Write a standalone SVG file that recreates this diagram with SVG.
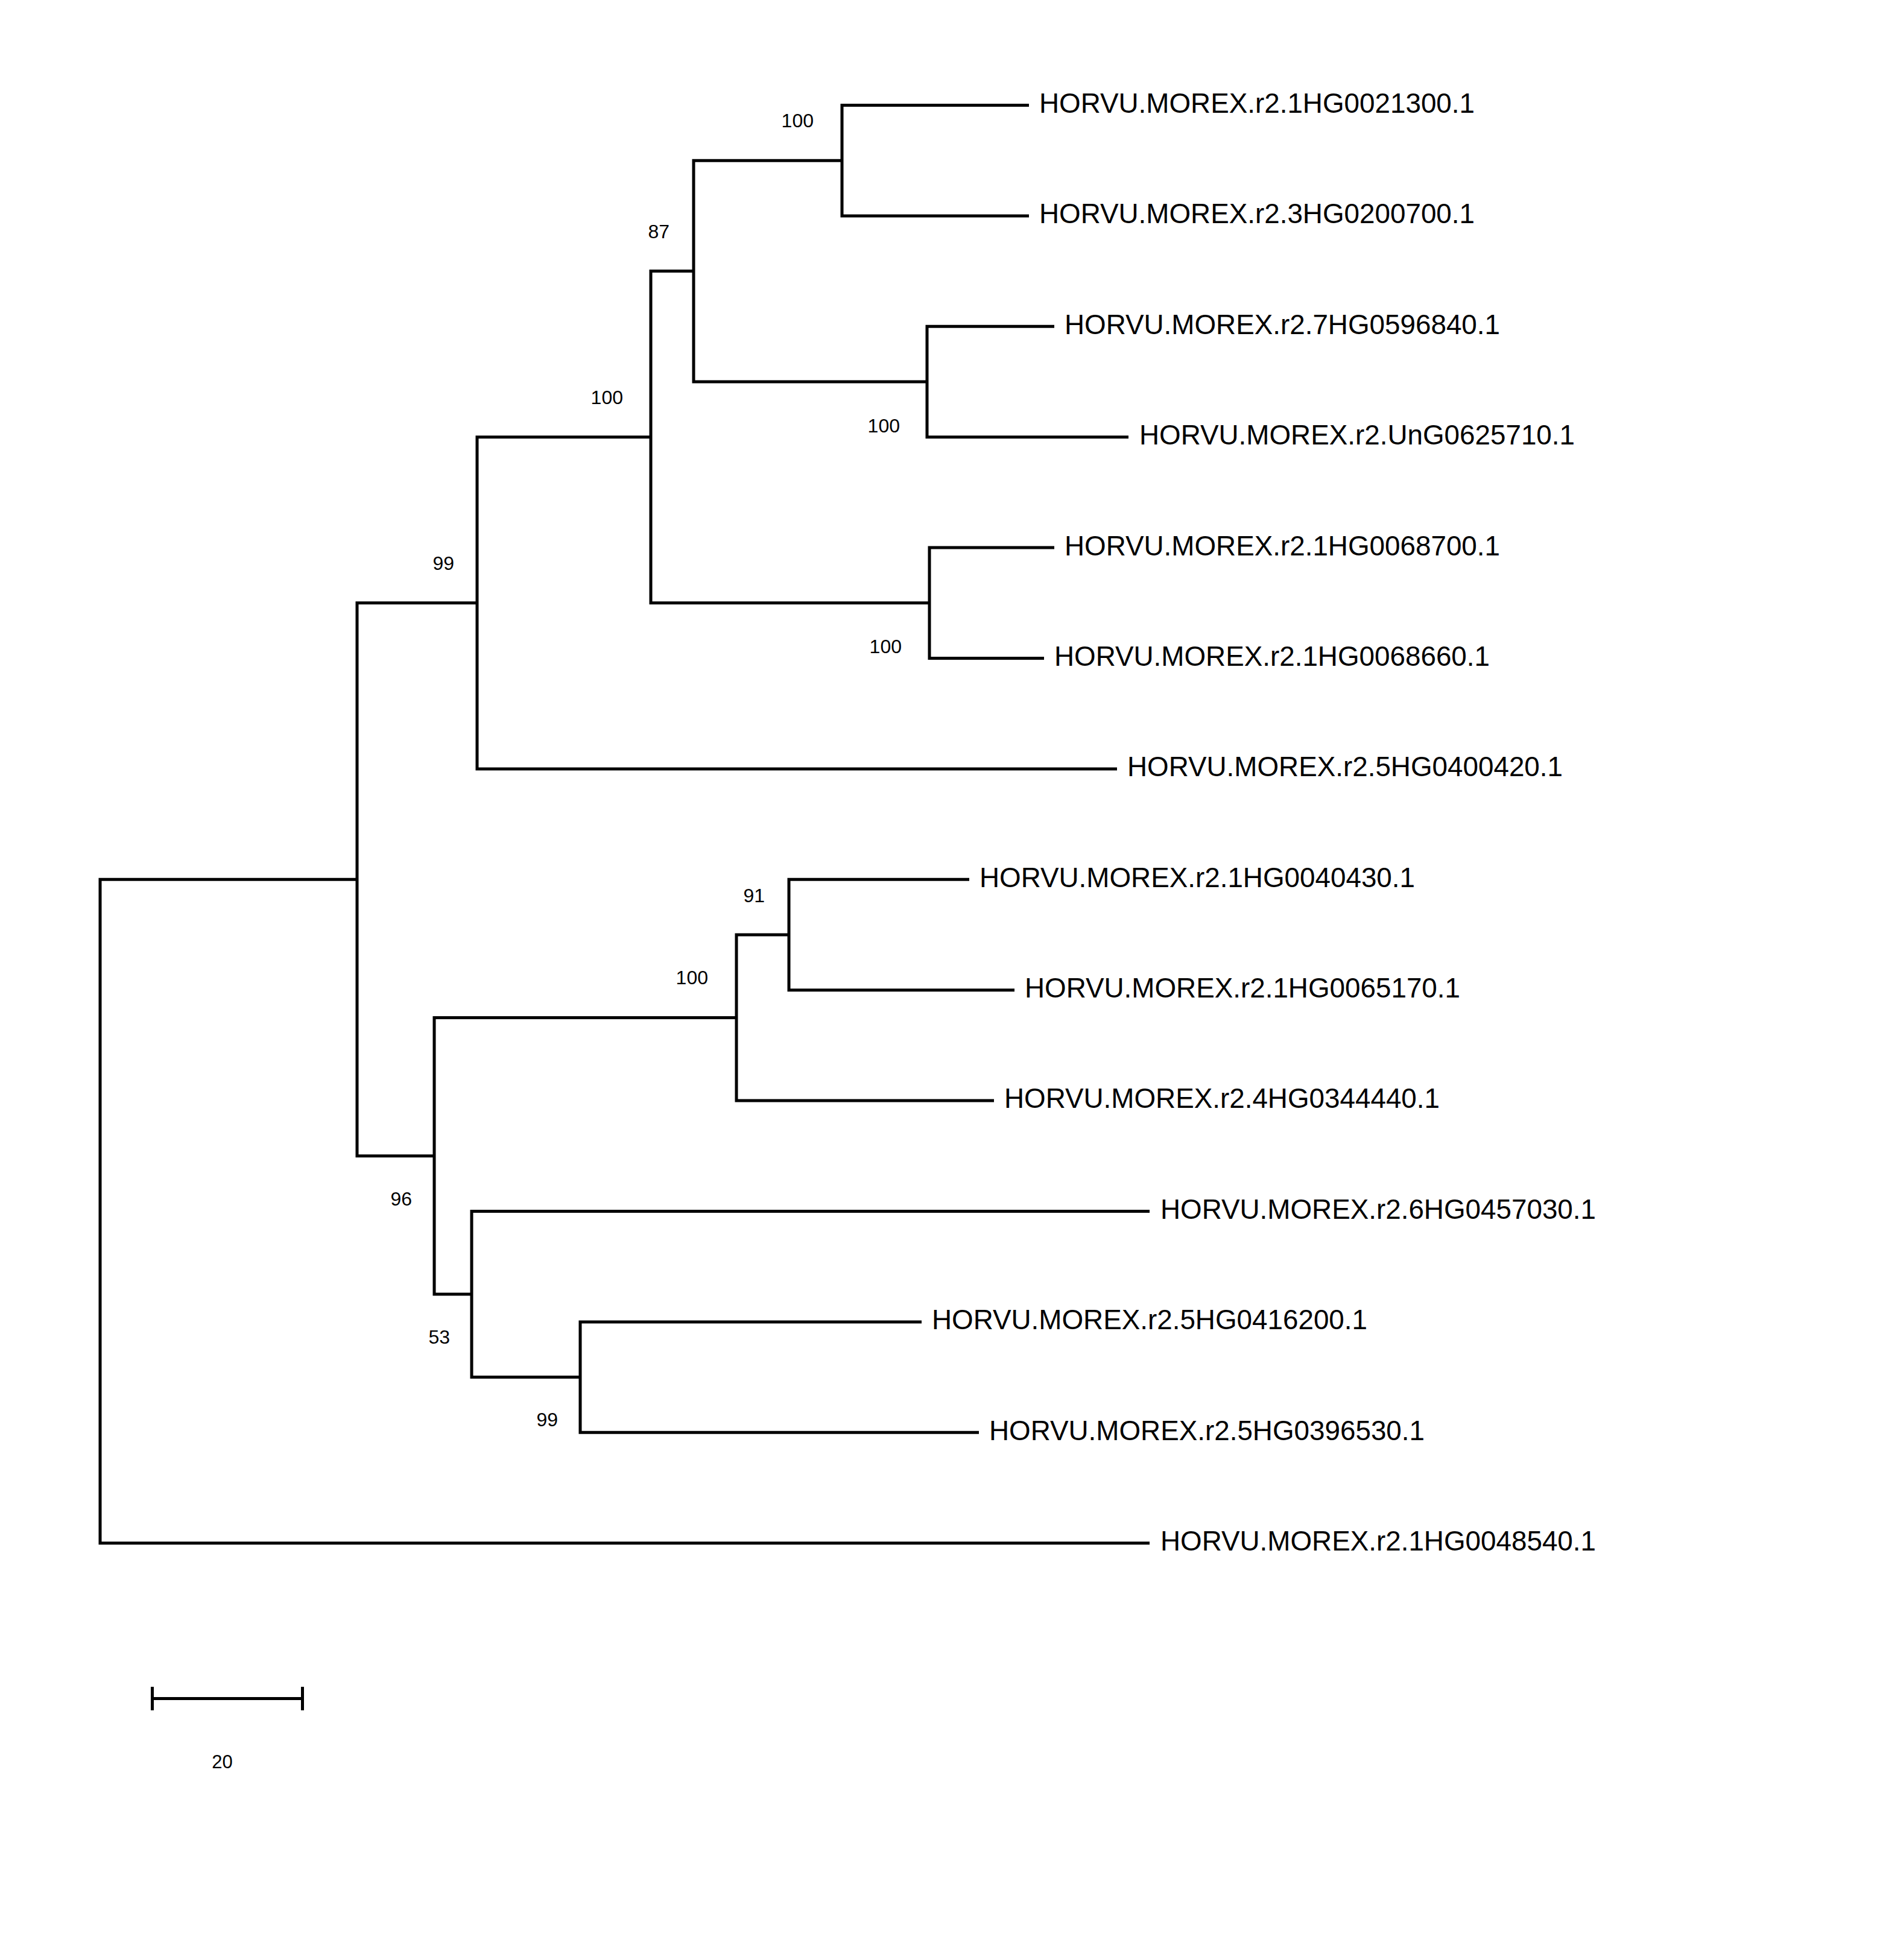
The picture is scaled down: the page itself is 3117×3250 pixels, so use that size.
<svg xmlns="http://www.w3.org/2000/svg" width="3117" height="3250" viewBox="0 0 3117 3250">
<style>
.br{fill:none;stroke:#000;stroke-width:5;stroke-linejoin:miter;stroke-linecap:butt}
.lf{font-family:"Liberation Sans",Arial,sans-serif;font-size:45.8px;fill:#000}
.bs{font-family:"Liberation Sans",Arial,sans-serif;font-size:32px;fill:#000;text-anchor:end}
.sc{font-family:"Liberation Sans",Arial,sans-serif;font-size:31px;fill:#000;text-anchor:middle}
</style>
<rect width="3117" height="3250" fill="#fff"/>
<g id="connectors">
<path class="br" d="M1706,174.5 H1396 V357.9 H1706"/>
<path class="br" d="M1748,541.3 H1537 V724.7 H1871"/>
<path class="br" d="M1396,266.2 H1150 V633 H1537"/>
<path class="br" d="M1748,908.1 H1541 V1091.5 H1731"/>
<path class="br" d="M1150,449.6 H1079 V999.8 H1541"/>
<path class="br" d="M1079,724.7 H791 V1274.9 H1852"/>
<path class="br" d="M1607,1458.3 H1308 V1641.7 H1682"/>
<path class="br" d="M1308,1550 H1221 V1825.1 H1648"/>
<path class="br" d="M1528,2191.9 H962 V2375.3 H1623"/>
<path class="br" d="M1906,2008.5 H782 V2283.6 H962"/>
<path class="br" d="M1221,1687.6 H720 V2146 H782"/>
<path class="br" d="M791,999.8 H592 V1916.8 H720"/>
<path class="br" d="M592,1458.3 H166 V2558.7 H1906"/>
</g>
<g id="leaf-1"><text class="lf" x="1723" y="186.5">HORVU.MOREX.r2.1HG0021300.1</text></g>
<g id="leaf-2"><text class="lf" x="1723" y="370">HORVU.MOREX.r2.3HG0200700.1</text></g>
<g id="leaf-3"><text class="lf" x="1765" y="553.5">HORVU.MOREX.r2.7HG0596840.1</text></g>
<g id="leaf-4"><text class="lf" x="1889" y="737">HORVU.MOREX.r2.UnG0625710.1</text></g>
<g id="leaf-5"><text class="lf" x="1765" y="920.5">HORVU.MOREX.r2.1HG0068700.1</text></g>
<g id="leaf-6"><text class="lf" x="1748" y="1104">HORVU.MOREX.r2.1HG0068660.1</text></g>
<g id="leaf-7"><text class="lf" x="1869" y="1287">HORVU.MOREX.r2.5HG0400420.1</text></g>
<g id="leaf-8"><text class="lf" x="1624" y="1470.5">HORVU.MOREX.r2.1HG0040430.1</text></g>
<g id="leaf-9"><text class="lf" x="1699" y="1654">HORVU.MOREX.r2.1HG0065170.1</text></g>
<g id="leaf-10"><text class="lf" x="1665" y="1837">HORVU.MOREX.r2.4HG0344440.1</text></g>
<g id="leaf-11"><text class="lf" x="1924" y="2020.5">HORVU.MOREX.r2.6HG0457030.1</text></g>
<g id="leaf-12"><text class="lf" x="1545" y="2204">HORVU.MOREX.r2.5HG0416200.1</text></g>
<g id="leaf-13"><text class="lf" x="1640" y="2387.5">HORVU.MOREX.r2.5HG0396530.1</text></g>
<g id="leaf-14"><text class="lf" x="1924" y="2571">HORVU.MOREX.r2.1HG0048540.1</text></g>
<g id="node-A"><text class="bs" x="1349" y="211">100</text></g>
<g id="node-B"><text class="bs" x="1110" y="395">87</text></g>
<g id="node-C"><text class="bs" x="1492" y="716.5">100</text></g>
<g id="node-D"><text class="bs" x="1033" y="670">100</text></g>
<g id="node-E"><text class="bs" x="1495" y="1083">100</text></g>
<g id="node-F"><text class="bs" x="753" y="945">99</text></g>
<g id="node-K"><text class="bs" x="1268" y="1496">91</text></g>
<g id="node-I"><text class="bs" x="1174" y="1632">100</text></g>
<g id="node-H"><text class="bs" x="683" y="1999">96</text></g>
<g id="node-J"><text class="bs" x="746" y="2228">53</text></g>
<g id="node-L"><text class="bs" x="925" y="2365">99</text></g>
<g id="scale-bar">
<path class="br" d="M250,2816.5 H504 M252.5,2797 V2836 M501.5,2797 V2836"/>
<text class="sc" x="368.5" y="2932">20</text>
</g>
</svg>
